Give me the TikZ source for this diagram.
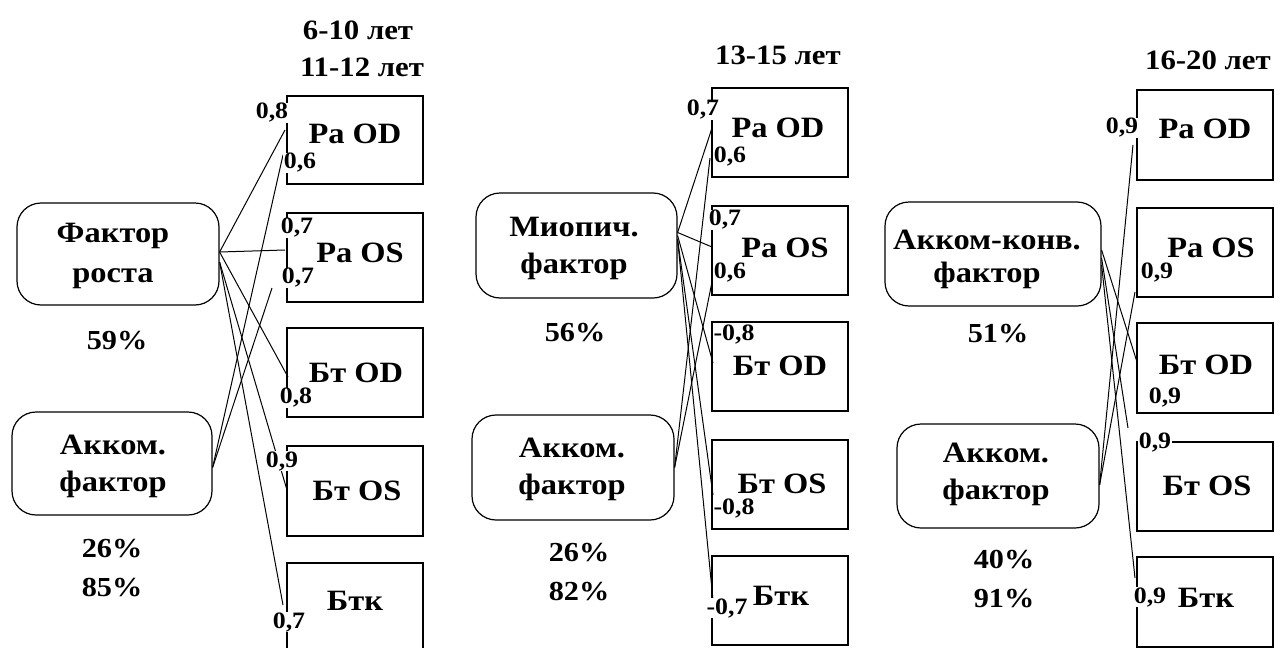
\documentclass[tikz,border=0pt]{standalone}
\usepackage{fontspec}
\setmainfont{Liberation Serif}[FakeStretch=1.1]
\usetikzlibrary{fit}
\begin{document}
\begin{tikzpicture}[x=1pt,y=-1pt,
  box/.style={draw, line width=1.3pt, inner sep=0pt},
  fac/.style={draw, line width=1.2pt, rounded corners=24pt, inner sep=0pt},
  lbl/.style={font=\fontsize{29.5}{33}\selectfont\bfseries, inner sep=0pt},
  ftxt/.style={font=\fontsize{29.5}{37}\selectfont\bfseries, align=center, inner sep=0pt},
  hdr/.style={font=\fontsize{28}{33}\selectfont\bfseries, inner sep=0pt},
  pct/.style={font=\fontsize{27.5}{39}\selectfont\bfseries, align=center, inner sep=0pt},
  cf/.style={font=\fontsize{23.5}{26}\selectfont\bfseries, fill=white, inner sep=0.6pt},
  con/.style={line width=1pt}]
\useasboundingbox[fill=white] (0,0) rectangle (1278,648);

% ---------------- panel 1 ----------------
\node[hdr] (h1a) at (358,30) {6-10 лет};
\node[hdr] (h1b) at (362,67) {11-12 лет};
\node[box, fit={(287,96) (423,184)}] (p1a) {};
\node[box, fit={(287,213) (423,302)}] (p1b) {};
\node[box, fit={(287,328) (423,417)}] (p1c) {};
\node[box, fit={(287,446) (423,536)}] (p1d) {};
\node[box, fit={(287,563) (423,660)}] (p1e) {};
\node[lbl] (l1a) at (355,134) {Ра OD};
\node[lbl] (l1b) at (360,253) {Ра OS};
\node[lbl] (l1c) at (356,373) {Бт OD};
\node[lbl] (l1d) at (357,491) {Бт OS};
\node[lbl] (l1e) at (355,601) {Бтк};
\node[fac, fit={(17,203) (219,305)}] (f1) {};
\node[ftxt, font=\fontsize{29.5}{40}\selectfont\bfseries] (f1t) at (113,256) {Фактор\\роста};
\node[pct] (f1p) at (117,341) {59\%};
\node[fac, fit={(12,412) (212,515)}] (g1) {};
\node[ftxt] (g1t) at (113,466) {Акком.\\фактор};
\node[pct] (g1p) at (112,568) {26\%\\85\%};

\coordinate (e1a) at (285,130);
\coordinate (e1b) at (285,250);
\coordinate (e1c) at (288,377);
\coordinate (e1d) at (287,490);
\coordinate (e1e) at (283,605);
\coordinate (e1f) at (283,155);
\coordinate (e1g) at (272,288);
\draw[con] ([yshift=2pt]f1.east) -- (e1a);
\draw[con] ([yshift=2pt]f1.east) -- (e1b);
\draw[con] ([yshift=2pt]f1.east) -- (e1c);
\draw[con] ([yshift=-8pt]f1.east) -- (e1d);
\draw[con] ([yshift=-8pt]f1.east) -- (e1e);
\draw[con] ([yshift=-4pt]g1.east) -- (e1f);
\draw[con] ([yshift=-4pt]g1.east) -- (e1g);

\node[cf] (c1a) at (272,113) {0,8};
\node[cf] (c1b) at (300,163) {0,6};
\node[cf] (c1c) at (297,228) {0,7};
\node[cf] (c1d) at (298,278) {0,7};
\node[cf] (c1e) at (296,398) {0,8};
\node[cf] (c1f) at (282,461) {0,9};
\node[cf] (c1g) at (289,622) {0,7};

% ---------------- panel 2 ----------------
\node[hdr] (h2) at (778,55) {13-15 лет};
\node[box, fit={(712,88) (848,177)}] (p2a) {};
\node[box, fit={(712,206) (848,295)}] (p2b) {};
\node[box, fit={(712,322) (848,411)}] (p2c) {};
\node[box, fit={(712,440) (848,529)}] (p2d) {};
\node[box, fit={(712,556) (848,645)}] (p2e) {};
\node[lbl] (l2a) at (778,128) {Ра OD};
\node[lbl] (l2b) at (785,248) {Ра OS};
\node[lbl] (l2c) at (780,366) {Бт OD};
\node[lbl] (l2d) at (782,484) {Бт OS};
\node[lbl] (l2e) at (781,596) {Бтк};
\node[fac, fit={(476,193) (677,298)}] (f2) {};
\node[ftxt] (f2t) at (574,248) {Миопич.\\фактор};
\node[pct] (f2p) at (575,333) {56\%};
\node[fac, fit={(472,415) (674,520)}] (g2) {};
\node[ftxt] (g2t) at (572,469) {Акком.\\фактор};
\node[pct] (g2p) at (579,572) {26\%\\82\%};

\coordinate (e2a) at (712,128);
\coordinate (e2b) at (712,247);
\coordinate (e2c) at (713,363);
\coordinate (e2d) at (713,495);
\coordinate (e2e) at (713,600);
\coordinate (e2f) at (710,158);
\coordinate (e2g) at (712,282);
\draw[con] ([yshift=13pt]f2.east) -- (e2a);
\draw[con] ([yshift=13pt]f2.east) -- (e2b);
\draw[con] ([yshift=10pt]f2.east) -- (e2c);
\draw[con] ([yshift=6pt]f2.east) -- (e2d);
\draw[con] ([yshift=6pt]f2.east) -- (e2e);
\draw[con] (g2.east) -- (e2f);
\draw[con] (g2.east) -- (e2g);

\node[cf] (c2a) at (703,110) {0,7};
\node[cf] (c2b) at (730,157) {0,6};
\node[cf] (c2c) at (725,220) {0,7};
\node[cf] (c2d) at (730,273) {0,6};
\node[cf] (c2e) at (734,335) {-0,8};
\node[cf] (c2f) at (734,508) {-0,8};
\node[cf] (c2g) at (727,608) {-0,7};

% ---------------- panel 3 ----------------
\node[hdr] (h3) at (1208,60) {16-20 лет};
\node[box, fit={(1137,90) (1273,180)}] (p3a) {};
\node[box, fit={(1137,208) (1273,297)}] (p3b) {};
\node[box, fit={(1137,323) (1273,413)}] (p3c) {};
\node[box, fit={(1137,442) (1273,531)}] (p3d) {};
\node[box, fit={(1137,557) (1273,647)}] (p3e) {};
\node[lbl] (l3a) at (1205,129) {Ра OD};
\node[lbl] (l3b) at (1211,248) {Ра OS};
\node[lbl] (l3c) at (1206,365) {Бт OD};
\node[lbl] (l3d) at (1207,486) {Бт OS};
\node[lbl] (l3e) at (1206,598) {Бтк};
\node[fac, fit={(885,202) (1101,306)}] (f3) {};
\node[ftxt, font=\fontsize{29.5}{33}\selectfont\bfseries] (f3t) at (987,259) {Акком-конв.\\фактор};
\node[pct] (f3p) at (998,334) {51\%};
\node[fac, fit={(897,424) (1099,528)}] (g3) {};
\node[ftxt] (g3t) at (996,474) {Акком.\\фактор};
\node[pct] (g3p) at (1004,579) {40\%\\91\%};

\coordinate (e3a) at (1137,362);
\coordinate (e3b) at (1128,428);
\coordinate (e3c) at (1135,578);
\coordinate (e3d) at (1133,145);
\coordinate (e3e) at (1135,292);
\draw[con] ([yshift=4pt]f3.east) -- (e3a);
\draw[con] ([yshift=-4pt]f3.east) -- (e3b);
\draw[con] ([yshift=-11pt]f3.east) -- (e3c);
\draw[con] ([yshift=-9pt]g3.east) -- (e3d);
\draw[con] ([yshift=-9pt]g3.east) -- (e3e);

\node[cf] (c3a) at (1122,128) {0,9};
\node[cf] (c3b) at (1157,273) {0,9};
\node[cf] (c3c) at (1165,397) {0,9};
\node[cf] (c3d) at (1155,442) {0,9};
\node[cf] (c3e) at (1150,597) {0,9};
\end{tikzpicture}
\end{document}
